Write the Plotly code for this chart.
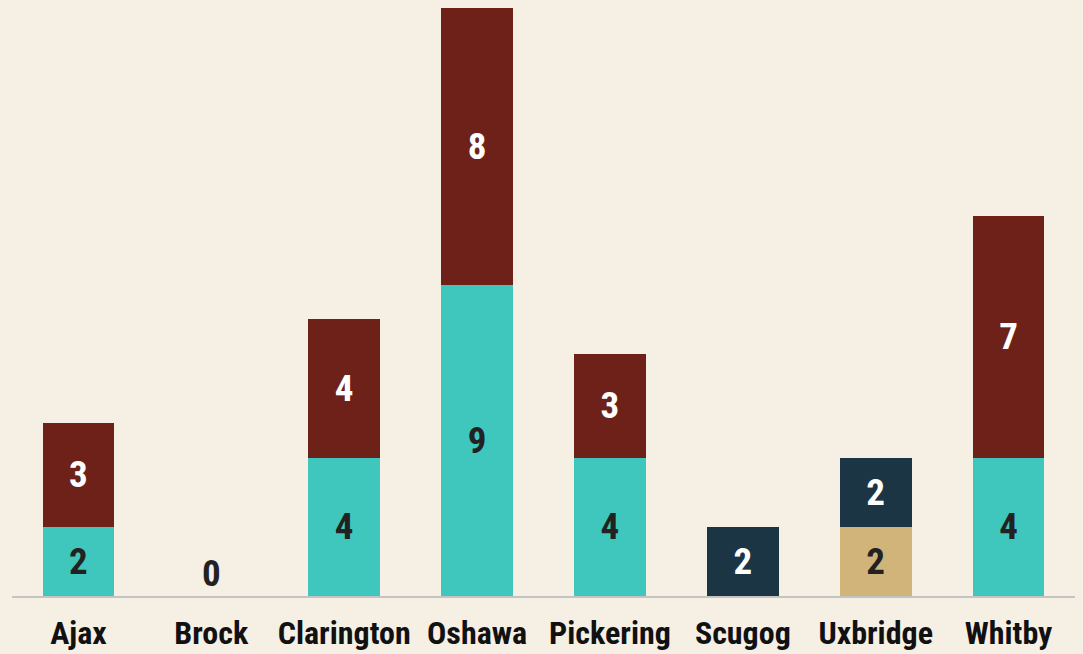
import plotly.graph_objects as go

categories = ["Ajax", "Brock", "Clarington", "Oshawa", "Pickering", "Scugog", "Uxbridge", "Whitby"]
teal_vals = [2, None, 4, 9, 4, None, None, 4]
tan_vals = [None, None, None, None, None, None, 2, None]
red_vals = [3, None, 4, 8, 3, None, None, 7]
navy_vals = [None, None, None, None, None, 2, 2, None]
zero_vals = [None, 0, None, None, None, None, None, None]

FONT = "Roboto Condensed, Liberation Sans Narrow, DejaVu Sans Condensed, Roboto, sans-serif"
BG = "#F5EFE4"
DARK = "#222222"
NUM_SIZE = 37

def txt(vals):
    return [("" if v is None else str(v)) for v in vals]

series = [
    ("Teal", teal_vals, "#40C7BD", DARK),
    ("Tan", tan_vals, "#D0B47A", DARK),
    ("Red", red_vals, "#6E2119", "#FFFFFF"),
    ("Navy", navy_vals, "#1B3545", "#FFFFFF"),
]

fig = go.Figure()
for name, vals, color, tcolor in series:
    fig.add_trace(go.Bar(
        x=categories, y=vals, name=name,
        marker=dict(color=color, line=dict(width=0)),
        text=txt(vals), textposition="inside", insidetextanchor="middle",
        textangle=0,
        textfont=dict(family=FONT, size=NUM_SIZE, color=tcolor, weight="bold"),
        hoverinfo="skip",
    ))

for c, v in zip(categories, zero_vals):
    if v is not None:
        fig.add_annotation(x=c, y=v, text=str(v), showarrow=False, yanchor="bottom",
                           yshift=-1,
                           font=dict(family=FONT, size=NUM_SIZE, color=DARK, weight="bold"))

fig.update_layout(
    barmode="stack",
    bargap=0.46,
    width=1083, height=654,
    margin=dict(l=4, r=16, t=0, b=66),
    paper_bgcolor=BG, plot_bgcolor=BG,
    showlegend=False,
    uniformtext=dict(minsize=NUM_SIZE, mode="show"),
    xaxis=dict(
        showline=True, linecolor="#C4C4C4", linewidth=2,
        showgrid=False, ticks="", ticklabelstandoff=8,
        tickfont=dict(family=FONT, size=32, color="#111111", weight="bold"),
        fixedrange=True,
    ),
    yaxis=dict(range=[0, 17], visible=False, showgrid=False, zeroline=False, fixedrange=True),
)

fig.write_html(
    "out.html",
    config={"displayModeBar": False},
    post_script="document.body.style.background='%s';"
                "document.documentElement.style.background='%s';" % (BG, BG),
)
